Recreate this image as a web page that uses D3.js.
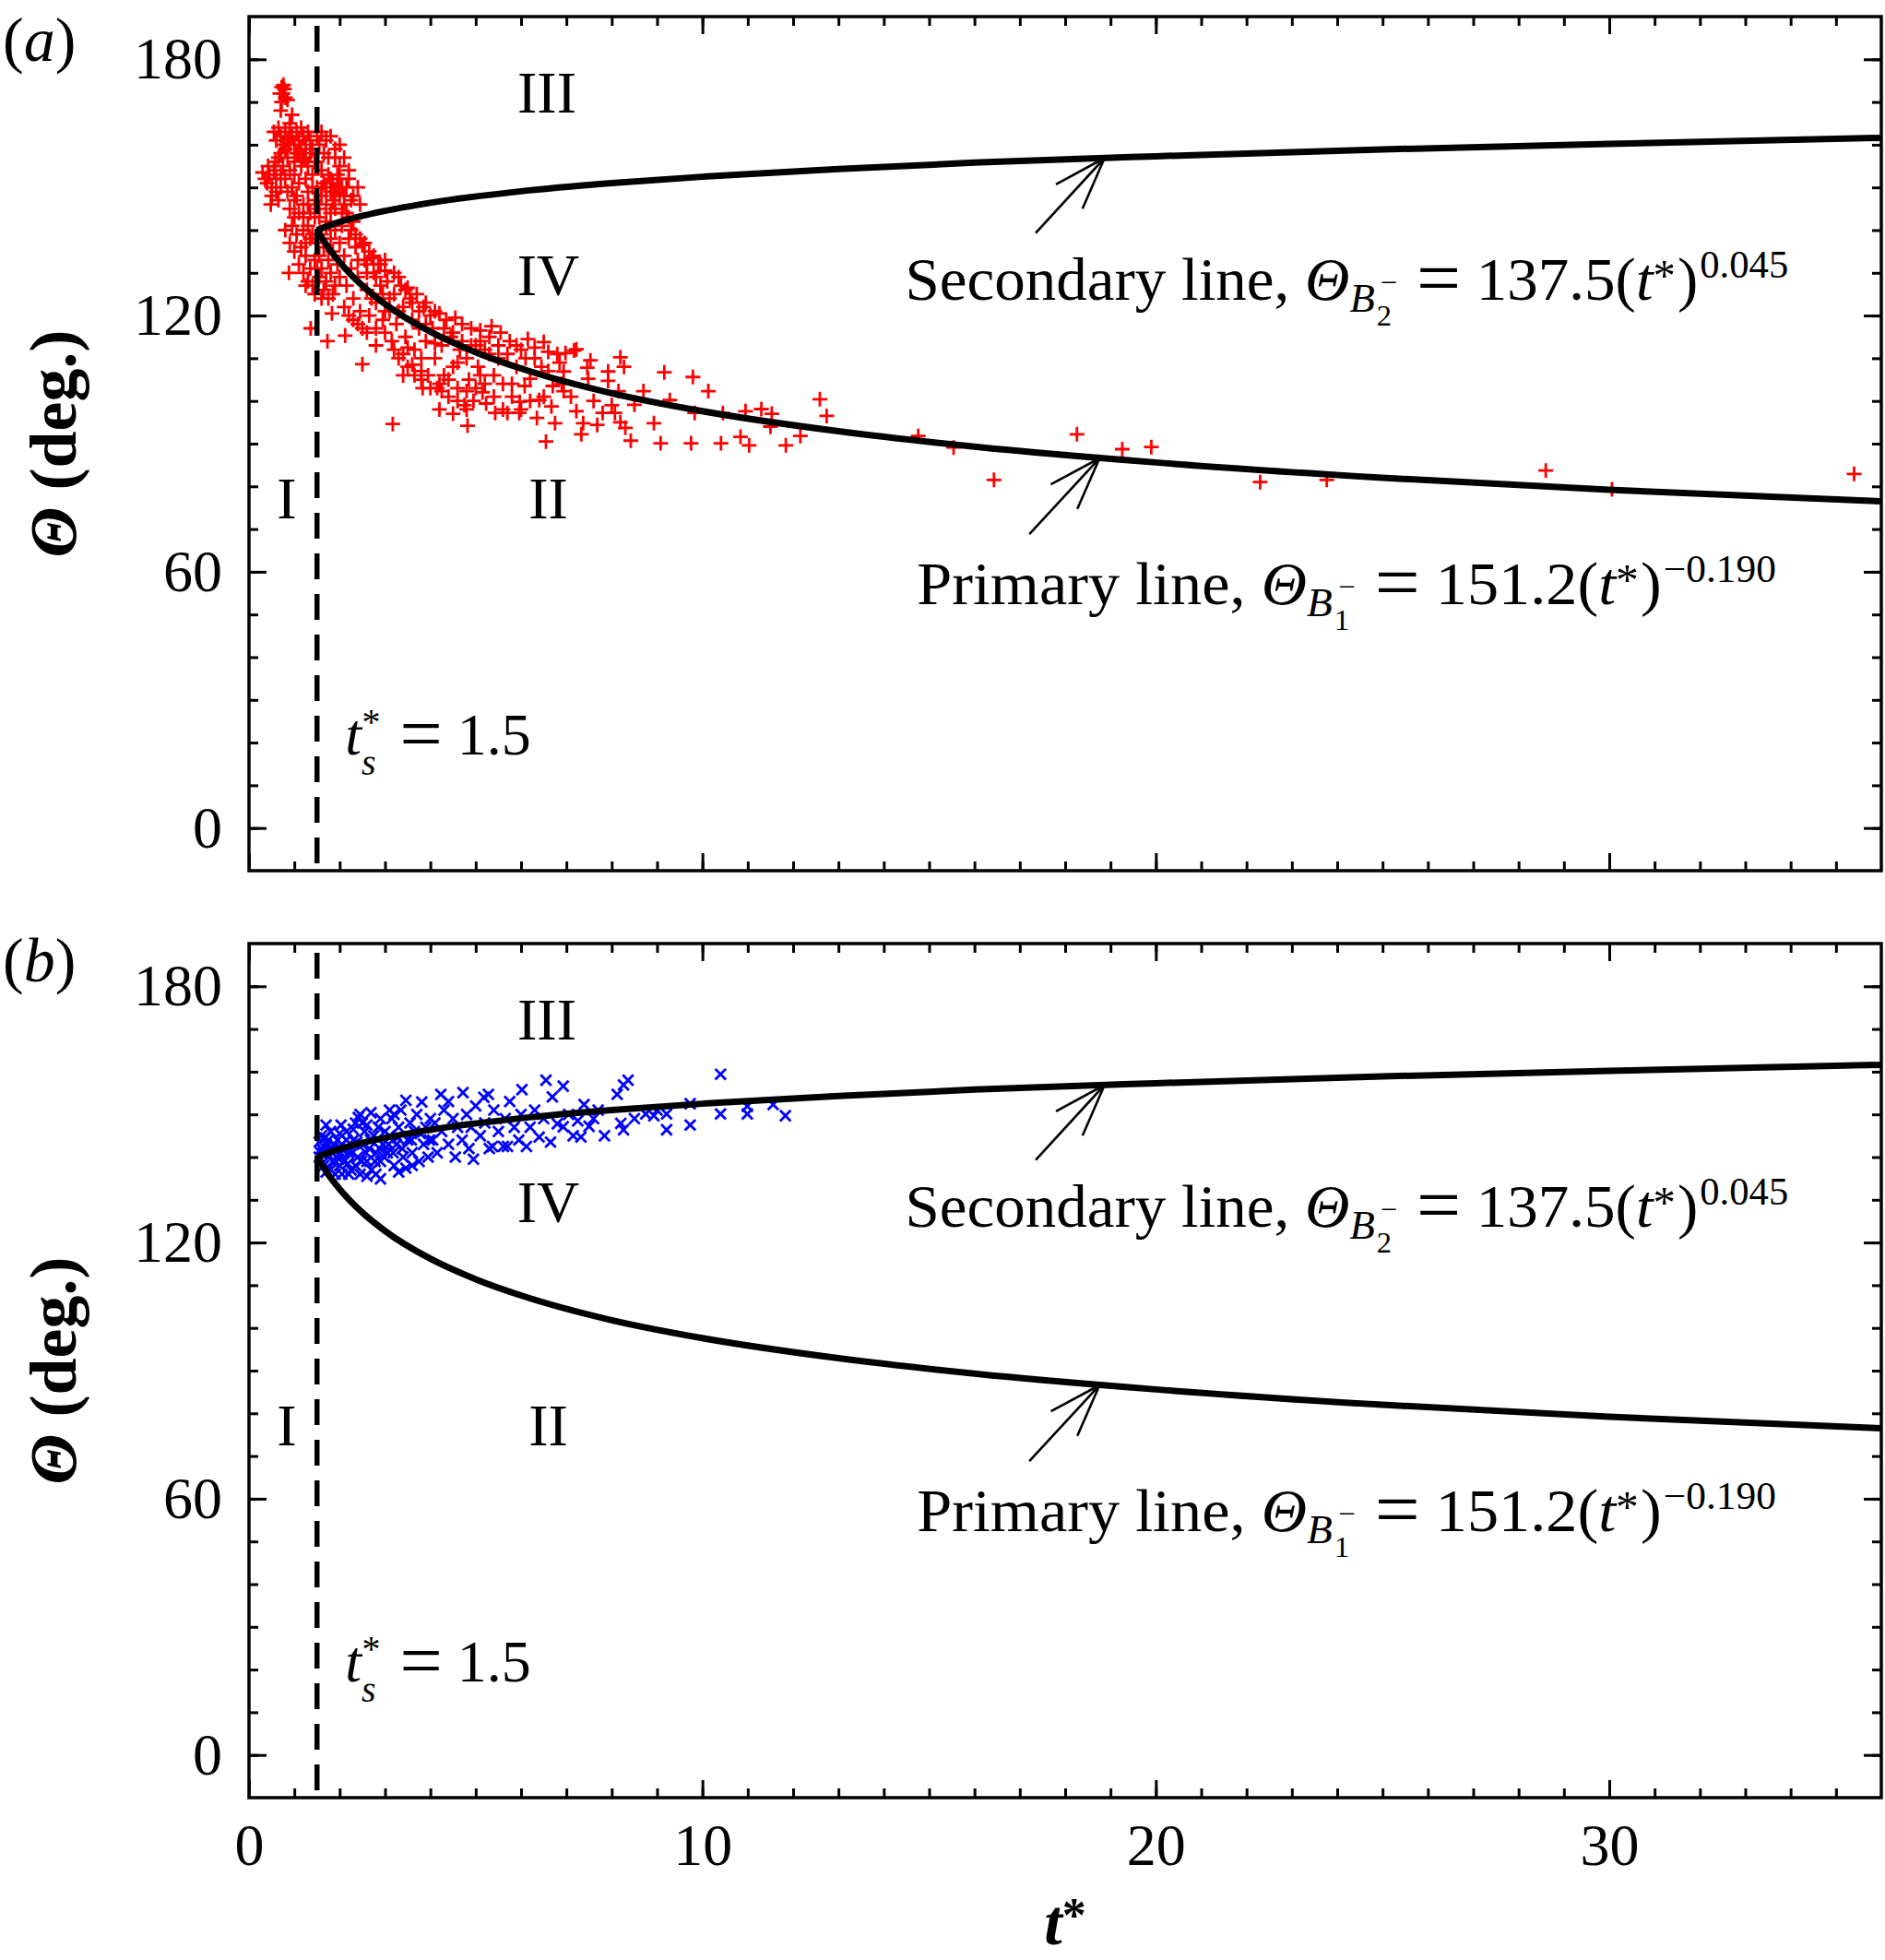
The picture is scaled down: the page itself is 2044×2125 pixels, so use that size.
<!DOCTYPE html>
<html>
<head>
<meta charset="utf-8">
<script src="https://cdn.jsdelivr.net/npm/d3@7.9.0/dist/d3.min.js"></script>
<style>
  body { margin: 0; background: #fff; }
  svg { display: block; }
  text { font-family: "Liberation Serif", "Times New Roman", serif; fill: #000; }
</style>
</head>
<body>
<svg id="chart" width="2044" height="2125"></svg>
<script>
// ---- data ----
const xMajorTicks = [0, 10, 20, 30];
const yMajorTicks = [0, 60, 120, 180];
const tSplit = 1.5;

// fitted lines
const primaryT = [1.5, 1.75, 2, 2.5, 3, 4, 5, 6, 8, 10, 13, 16, 20, 25, 30, 36];
const primaryTheta = [140.0, 135.9, 132.5, 127.0, 122.7, 116.2, 111.4, 107.6, 101.8, 97.6, 92.9, 89.3, 85.6, 82.0, 79.2, 76.5];
const secondaryT = [1.5, 1.75, 2, 3, 4, 6, 8, 10, 13, 16, 20, 25, 30, 36];
const secondaryTheta = [140.0, 141.0, 141.9, 144.5, 146.4, 149.1, 151.0, 152.5, 154.3, 155.8, 157.3, 158.9, 160.2, 161.6];

// panel (a): red + markers  [t*, Theta]
const redPoints = [
  [0.35,152],[0.4,151],[0.45,153],[0.5,150],[0.5,148],[0.55,154],[0.6,149],[0.6,152],[0.65,147],[0.7,150],[0.42,155],[0.58,156],[0.3,153.5],[0.48,146],
  [0.68,172],[0.72,173.5],[0.75,172],[0.78,173],[0.8,171],[0.72,170],[0.85,170.5],[0.7,168],[0.95,167],[0.9,165],[0.76,174],
  [0.55,163],[0.6,161],[0.65,164],[0.7,162],[0.75,160],[0.8,163],[0.85,161],[0.9,164],[0.95,162],[1.0,160],[1.05,163],[1.1,161],[1.15,164],[1.2,162],[1.25,160],[1.3,163],[1.35,161],[1.4,159],[1.5,162],[1.55,160],[1.6,163],[1.7,161],[1.8,162],[1.9,159],[2.0,160],[1.65,158],[1.75,157],
  [0.7,158],[0.75,155],[0.8,152],[0.85,157],[0.9,154],[0.95,150],[1.0,156],[1.0,153],[1.05,148],[1.1,158],[1.1,151],[1.15,155],[1.2,146],[1.2,157],[1.25,152],[1.3,149],[1.3,155],[1.35,144],[1.4,153],[1.45,147],[1.5,156],[1.5,150],[1.55,145],[1.6,154],[1.6,148],[1.65,151],[1.7,146],[1.75,153],[1.8,149],[1.85,151],[1.9,145],[1.95,153],[2.0,148],[2.05,150],[2.1,146],[2.2,152],[2.3,148],[2.4,150],[2.45,146],[1.7,142],[1.8,144],[1.3,141],[1.4,139],
  [0.65,157],[0.8,159],[0.9,160],[1.05,158],[1.15,159],[1.25,157],[1.35,158],[1.45,156],[0.7,153],[0.85,149],[1.0,147],[1.1,144],[1.2,143],[1.3,146],[1.4,150],[1.45,143],[1.25,137],[1.35,131],[1.5,137],[1.5,131],
  [2.1,157],[2.2,154],[2.0,155],[1.9,157],[2.15,150],[2.25,147],[1.95,150],[1.85,147],[2.05,144],
  [1.6,150],[1.7,150],[1.8,152],[1.9,149],[2.0,152],[2.1,148],[2.2,143],[2.25,140],[2.35,139],[2.45,138],[2.55,137],[2.65,135],[2.75,134],[2.9,132],[3.0,133],
  [0.8,140],[0.9,137],[0.95,141],[1.0,135],[1.05,139],[1.1,132],[1.15,136],[1.2,130],[1.25,134],[1.3,128],[1.35,138],[1.4,127],[1.45,133],[1.55,129],[1.6,124],[1.0,143],[0.9,145],[1.2,140],[1.45,125],[0.88,130],[1.25,127],
  [1.36,117],[1.73,114],[2.12,115.3],[1.83,120.5],[2.5,108.6],[3.17,94.6],[4.82,94.2],
  [1.55,143],[1.6,139],[1.65,136],[1.7,141],[1.75,133],[1.8,138],[1.85,135],[1.9,140],[1.95,132],[2.0,137],[1.6,131],[1.7,128],[1.8,130],[1.9,127],[2.0,129],[1.55,134],[1.65,126],[1.75,124],[1.85,125],
  [2.05,141],[2.1,134],[2.15,127],[2.2,138],[2.25,131],[2.3,124],[2.35,136],[2.4,129],[2.45,121],[2.5,136.5],[2.55,133],[2.6,126],[2.65,120],[2.7,133.5],[2.75,130],[2.8,123],[2.85,132],[2.9,127],[2.95,119],[3.0,130.5],[2.1,122],[2.3,119],[2.5,117],[2.6,130],[2.8,117],[2.15,144],[2.3,142],
  [2.4,133],[2.6,132],[2.8,129],[2.95,125],[3.1,124],[3.3,121],[3.3,129],[3.45,126],[3.6,123],[3.75,121],[3.9,118],[4.1,121],[4.3,117],[4.5,116],[4.7,114],[4.9,113],[5.1,114],[5.3,111],[5.5,113],[5.7,111],[5.9,113],[6.1,110],[6.3,112.5],[6.6,111.5],[6.85,109],
  [2.2,120],[2.4,118],[2.6,116],[2.8,113],[3.0,116],[3.2,112],[3.4,106],[3.6,108.5],[3.8,107],[4.0,103],[4.2,104],[4.4,105],[4.6,100],[4.8,98],[5.0,103],[5.2,104],[5.4,101],[5.6,98],[5.8,104],[6.0,98],[6.2,100],[6.5,101],[6.7,103.5],[3.5,112.5],[3.0,121],[2.7,124],[4.1,113.5],[4.6,109],[5.1,106],
  [3.05,128],[3.1,121],[3.15,114],[3.2,125],[3.25,118],[3.3,110],[3.35,127],[3.4,122],[3.45,115],[3.5,108],[3.55,124],[3.6,119],[3.65,112],[3.7,125],[3.75,117],[3.8,110],[3.85,122],[3.9,114],[3.95,106],[4.0,120],[3.2,130],[3.5,126.5],[3.8,105],[3.4,111],[3.65,106],[3.9,123],
  [4.05,117],[4.1,110],[4.15,103],[4.2,120.5],[4.25,113],[4.3,106],[4.35,119],[4.4,101],[4.45,115],[4.5,108],[4.55,119.5],[4.6,103],[4.65,112],[4.7,118],[4.75,99],[4.8,110],[4.85,105],[4.9,117],[4.95,100],[5.0,113],[4.2,98],[4.5,97],[4.8,102.3],[4.25,102.3],[3.83,103],
  [5.05,108],[5.1,116.5],[5.15,102],[5.2,112],[5.23,99.4],[5.3,115],[5.4,106],[5.43,97.2],[5.5,110],[5.6,104],[5.7,97.2],[5.75,114],[5.8,101],[5.9,108],[5.96,97.2],[6.0,112],[5.35,117.5],[5.55,116],[5.97,99.8],
  [6.08,103.5],[6.2,105.2],[6.15,114.5],[6.3,110],[6.4,100.2],[6.5,113.8],[6.55,90.5],[6.6,107],[6.67,98.7],[6.75,94.8],[6.8,111],[6.9,104],[6.94,102.3],[6.94,106.9],[6.98,111.2],[6.35,96],[6.45,108],
  [7.17,111.8],[7.22,112.1],[7.22,97.6],[7.37,94.8],[7.33,92.2],[7.53,109.5],[7.46,107.8],[7.48,105.2],[7.68,94.4],[7.8,97.2],[7.92,106.9],[7.92,104.7],[8.07,97.2],[8.15,102.3],[8.19,110.2],[8.27,108],[8.19,95],[8.3,93.7],[8.42,90.7],[8.5,99.1],[8.7,102.3],[8.93,94.8],[7.1,101],[7.6,100],[8.0,99],
  [9.08,90.1],[9.16,106.7],[9.28,100.2],[9.75,90.1],[9.79,105.6],[9.83,97.2],[10.13,102.3],[10.41,90.1],[10.45,97.2],[10.84,91.6],[10.95,97.6],[11.03,89.6],[11.3,98.1],[11.53,97],[11.5,94],[11.84,89.6],[12.16,91.8],[12.59,100.4],[12.74,96.5],
  [14.76,91.8],[15.54,89.1],[16.43,81.5],[18.26,92.2],[19.26,88.7],[19.9,89.2],[22.3,81.0],[23.77,81.5],[28.6,83.7],[30.06,79.3],[35.4,82.9]
];

// panel (b): blue x markers  [t*, Theta]
const bluePoints = [
  [1.55,140],[1.6,142],[1.65,138],[1.7,143],[1.75,140],[1.8,137],[1.85,142],[1.9,139],[1.95,144],[2.0,141],[1.6,145],[1.7,136.5],[1.8,146],[1.9,136],[2.0,138],[1.55,143.5],[1.75,144],[2.05,136],[1.65,141],[1.85,139],
  [1.58,141],[1.68,144.5],[1.78,141.5],[1.88,143],[1.98,139.5],[2.08,141.5],[2.18,138.5],[2.28,141],[2.38,143.5],[2.48,139],[2.58,141],[2.68,144],[2.78,139],[2.88,142],[2.98,140],[3.08,143],[3.18,141],[3.28,144.5],[3.38,142],[3.58,144],[3.78,145.5],[3.98,144],[2.3,146.5],[2.6,147.5],[2.9,149],[3.1,151],[1.7,147.5],[2.0,145.5],
  [2.05,143],[2.1,139],[2.15,146],[2.2,141],[2.25,137],[2.3,144],[2.35,148],[2.4,140],[2.41,149.3],[2.45,136],[2.5,143],[2.55,146],[2.6,139],[2.65,142],[2.69,150.4],[2.7,137],[2.75,145],[2.8,141],[2.85,147],[2.9,134.9],[2.9,139],[2.95,143],[3.0,146],[2.2,136],[2.35,138],[2.6,135.5],[2.8,136],[2.5,148],[2.15,144],[2.45,150],[2.03,147.5],
  [3.05,141],[3.1,145],[3.15,149],[3.2,138],[3.25,143],[3.3,147],[3.35,151],[3.4,140],[3.46,153.3],[3.46,137.4],[3.5,144],[3.55,148],[3.6,141],[3.65,146],[3.7,150],[3.75,139],[3.81,152.9],[3.85,143],[3.9,147],[3.95,140],[4.0,149],[3.3,136.5],[3.6,138],[3.2,150],
  [4.05,144],[4.1,148],[4.15,141],[4.23,154.7],[4.25,146],[4.3,151],[4.4,143],[4.5,149],[4.55,140],[4.6,147],[4.72,155.1],[4.7,144],[4.8,150],[4.85,142],[4.9,147],[5.0,152],[4.4,153],[4.95,139.5],
  [5.1,145],[5.18,154],[5.28,154.7],[5.2,148],[5.3,142],[5.37,142.5],[5.4,151],[5.5,146],[5.61,142.5],[5.65,149],[5.7,142.5],[5.75,153],[5.85,147],[6.0,150],[5.95,144],[6.02,155.8],
  [6.12,142.5],[6.2,147],[6.3,151],[6.4,144.7],[6.55,158],[6.5,149],[6.69,154.1],[6.8,147.8],[6.93,156.6],[6.93,147.1],[7.05,150],[7.15,145],[7.32,144.7],[7.39,152.3],[7.5,147.2],[7.6,149],[7.84,145],[7.7,151],[6.65,143.5],[7.25,148.5],
  [8.12,154.7],[8.2,147.9],[8.26,156.9],[8.26,146.4],[8.36,158],[8.75,150.1],[8.93,149.7],[9.21,150.1],[9.21,146.4],[9.73,152.5],[9.73,147.5],[10.4,159.4],[10.4,150.1],[10.99,150.1],[10.99,151.9],[11.56,152.3],[11.83,149.7],[8.5,149],[9.0,151]
];

// region labels and annotations  [text, t*, Theta]
const regionLabels = [["III", 6.57, 167.6], ["IV", 6.6, 124.8], ["I", 0.83, 72.6], ["II", 6.6, 72.6]];
const arrowTails = [[17.35, 139.3], [17.21, 68.8]];
const arrowTips = [[18.87, 156.9], [18.76, 86.6]];
const secondaryLabelAt = [14.47, 123.8];
const primaryLabelAt = [14.73, 52.4];
const splitLabelAt = [2.12, 17.3];

// ---- layout ----
const svg = d3.select('#chart');
svg.append('rect').attr('width', 2044).attr('height', 2125).attr('fill', '#fff');

const x = d3.scaleLinear().domain([0, 36]).range([270, 2040]);
const panels = [
  { tag: 'a', top: 18, bottom: 944, points: redPoints, color: '#ff0000', marker: 'M-8,0H8M0,-8V8', xLabels: false },
  { tag: 'b', top: 1023, bottom: 1949, points: bluePoints, color: '#0000ff', marker: 'M-5.8,-5.8L5.8,5.8M-5.8,5.8L5.8,-5.8', xLabels: true }
];

const styleOf = {
  r: ['normal', 'normal'], i: ['italic', 'normal'], b: ['normal', 'bold'], bi: ['italic', 'bold']
};

// text with sub/superscripts; segs: [text, size, style, baselineOffset, dx]
function richText(parent, segs, anchor) {
  const t = parent.append('text').attr('text-anchor', anchor || 'start');
  let prev = 0;
  segs.forEach(([s, size, st, off, dx]) => {
    t.append('tspan')
      .attr('font-size', size)
      .attr('font-style', styleOf[st][0])
      .attr('font-weight', styleOf[st][1])
      .attr('dy', off - prev)
      .attr('dx', dx || 0)
      .text(s);
    prev = off;
  });
  return t;
}

function fitWidth(g, text, x0, y0, width) {
  const w = text.node().getBBox().width;
  g.attr('transform', `translate(${x0},${y0}) scale(${width / w},1)`);
}

function eqSegs(name, sub, coef, expo) {
  return [
    [name, 66, 'r', 0],
    ['\u0398', 66, 'i', 0],
    ['B', 44, 'i', 13],
    [sub, 32, 'r', 28, 2],
    ['\u2212', 32, 'r', -8, -12],
    [' ', 66, 'r', 0, 4],
    ['=', 84, 'r', 5],
    [' ' + coef + '(', 66, 'r', 0],
    ['t', 66, 'i', 0],
    ['*', 48, 'r', -10],
    [')', 66, 'r', 0, 2],
    [expo, 42, 'r', -24, 2]
  ];
}

panels.forEach((p) => {
  const y = d3.scaleLinear().domain([-10, 190]).range([p.bottom, p.top]);
  const g = svg.append('g');

  // scatter
  g.append('g').selectAll('path')
    .data(p.points)
    .join('path')
    .attr('transform', (d) => `translate(${x(d[0])},${y(d[1])})`)
    .attr('d', p.marker)
    .attr('fill', 'none')
    .attr('stroke', p.color)
    .attr('stroke-width', 2.8);

  // t*_s dashed line
  g.append('line')
    .attr('x1', x(tSplit)).attr('x2', x(tSplit))
    .attr('y1', p.top + 10).attr('y2', p.bottom)
    .attr('stroke', '#000').attr('stroke-width', 5.5)
    .attr('stroke-dasharray', '28,16');

  // fitted lines
  const line = d3.line().x((d) => x(d[0])).y((d) => y(d[1])).curve(d3.curveMonotoneX);
  g.append('path').attr('d', line(d3.zip(primaryT, primaryTheta)))
    .attr('fill', 'none').attr('stroke', '#000').attr('stroke-width', 7);
  g.append('path').attr('d', line(d3.zip(secondaryT, secondaryTheta)))
    .attr('fill', 'none').attr('stroke', '#000').attr('stroke-width', 7);

  // frame
  g.append('rect')
    .attr('x', x(0)).attr('y', p.top)
    .attr('width', x(36) - x(0)).attr('height', p.bottom - p.top)
    .attr('fill', 'none').attr('stroke', '#000').attr('stroke-width', 3.5);

  // axes (ticks inward on all four sides)
  const minorX = d3.range(1, 36);
  const minorY = d3.range(0, 190, 10);
  const axes = [
    [d3.axisBottom(x).tickValues(minorX).tickSize(-10).tickFormat(''), `translate(0,${p.bottom})`],
    [d3.axisBottom(x).tickValues(xMajorTicks).tickSize(-19).tickPadding(28).tickFormat(p.xLabels ? d3.format('d') : ''), `translate(0,${p.bottom})`],
    [d3.axisTop(x).tickValues(minorX).tickSize(-10).tickFormat(''), `translate(0,${p.top})`],
    [d3.axisTop(x).tickValues(xMajorTicks).tickSize(-19).tickFormat(''), `translate(0,${p.top})`],
    [d3.axisLeft(y).tickValues(minorY).tickSize(-10).tickFormat(''), `translate(${x(0)},0)`],
    [d3.axisLeft(y).tickValues(yMajorTicks).tickSize(-19).tickPadding(29), `translate(${x(0)},0)`],
    [d3.axisRight(y).tickValues(minorY).tickSize(-10).tickFormat(''), `translate(${x(36)},0)`],
    [d3.axisRight(y).tickValues(yMajorTicks).tickSize(-19).tickFormat(''), `translate(${x(36)},0)`]
  ];
  axes.forEach(([ax, tr]) => {
    const a = g.append('g').attr('transform', tr).call(ax);
    a.select('.domain').remove();
    a.selectAll('line').attr('stroke', '#000').attr('stroke-width', 3);
    a.attr('font-family', null).attr('font-size', null);
    a.selectAll('text').attr('font-size', 64).attr('fill', '#000');
  });

  // region labels
  regionLabels.forEach(([s, t, th]) => {
    g.append('text').attr('x', x(t)).attr('y', y(th))
      .attr('text-anchor', 'middle').attr('font-size', 64).text(s);
  });

  // arrows
  arrowTails.forEach((tail, i) => {
    const x0 = x(tail[0]), y0 = y(tail[1]);
    const x1 = x(arrowTips[i][0]), y1 = y(arrowTips[i][1]);
    const ang = Math.atan2(y0 - y1, x0 - x1);
    const wing = 60, spread = 19 * Math.PI / 180;
    const w1 = [x1 + wing * Math.cos(ang + spread), y1 + wing * Math.sin(ang + spread)];
    const w2 = [x1 + wing * Math.cos(ang - spread), y1 + wing * Math.sin(ang - spread)];
    g.append('path')
      .attr('d', `M${x0},${y0}L${x1},${y1}M${w1[0]},${w1[1]}L${x1},${y1}L${w2[0]},${w2[1]}`)
      .attr('fill', 'none').attr('stroke', '#000').attr('stroke-width', 2.6);
  });

  // equations
  const gs = g.append('g');
  const ts = richText(gs, eqSegs('Secondary line, ', '2', '137.5', '0.045'));
  fitWidth(gs, ts, x(secondaryLabelAt[0]), y(secondaryLabelAt[1]), 958);
  const gp = g.append('g');
  const tp = richText(gp, eqSegs('Primary line, ', '1', '151.2', '\u22120.190'));
  fitWidth(gp, tp, x(primaryLabelAt[0]), y(primaryLabelAt[1]), 932);

  // t*_s = 1.5
  richText(g, [['t', 64, 'i', 0], ['s', 40, 'i', 22, 0], ['*', 40, 'r', -22, -15], [' ', 64, 'r', 0, 5], ['=', 82, 'r', 5], [' 1.5', 64, 'r', 0]])
    .attr('x', x(splitLabelAt[0])).attr('y', y(splitLabelAt[1]));

  // panel tag
  richText(g, [['(', 68, 'r', 0], [p.tag, 68, 'i', 0], [')', 68, 'r', 0]])
    .attr('x', 3).attr('y', p.tag === 'a' ? 66 : 1064);

  // y label
  richText(g, [['\u0398', 72, 'bi', 0], [' (deg.)', 72, 'b', 0]], 'middle')
    .attr('transform', `translate(82,${(p.top + p.bottom) / 2}) rotate(-90)`);
});

// x label
richText(svg, [['t', 70, 'bi', 0], ['*', 52, 'b', -14]], 'middle')
  .attr('x', x(18)).attr('y', 2108);
</script>
</body>
</html>
